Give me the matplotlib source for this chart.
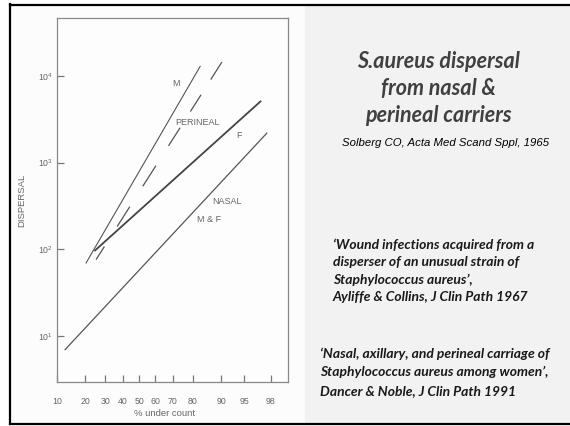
import numpy as np
import matplotlib
matplotlib.use("Agg")
import matplotlib.pyplot as plt
from matplotlib.patches import Rectangle
from matplotlib.lines import Line2D
from statistics import NormalDist

# ---- data (percent under count, dispersal) ----
m_pct = [20.4, 83.0]
m_disp = [69.5, 12900]
perineal_pct = [25.1, 90.2]
perineal_disp = [76, 14450]
f_pct = [24.6, 97.1]
f_disp = [97, 5080]
nasal_pct = [12.4, 97.7]
nasal_disp = [6.95, 2190]

x_ticks = [10, 20, 30, 40, 50, 60, 70, 80, 90, 95, 98]
y_ticks = [10, 100, 1000, 10000]
y_tick_labels = [r"$10^{1}$", r"$10^{2}$", r"$10^{3}$", r"$10^{4}$"]

plt.rcParams['lines.scale_dashes'] = False
plt.rcParams['mathtext.fontset'] = 'custom'
plt.rcParams['mathtext.rm'] = 'Liberation Sans'

W, H = 570, 426
fig = plt.figure(figsize=(W / 100, H / 100), dpi=100)
fig.patch.set_facecolor("white")

def fx(x):
    return x / W

def fy(y):
    return 1 - y / H

# slide background panels
fig.add_artist(Rectangle((fx(10), fy(424)), fx(295), (419) / H, transform=fig.transFigure,
                         facecolor="#fcfcfc", edgecolor="none", zorder=0))
fig.add_artist(Rectangle((fx(305), fy(424)), fx(265), (419) / H, transform=fig.transFigure,
                         facecolor="#f2f2f2", edgecolor="none", zorder=0))
# frame
for (x0, y0, x1, y1) in [(10, 4.5, 570, 4.5), (10, 423.5, 570, 423.5), (10.5, 4, 10.5, 424)]:
    fig.add_artist(Line2D([fx(x0), fx(x1)], [fy(y0), fy(y1)], transform=fig.transFigure,
                          color="black", lw=1.6, zorder=5))

# probit scale
nd = NormalDist()
def fwd(p):
    p = np.asarray(p, dtype=float)
    out = np.empty_like(p)
    flat = p.ravel()
    o = out.ravel()
    for i, v in enumerate(flat):
        v = min(max(v / 100.0, 1e-9), 1 - 1e-9)
        o[i] = nd.inv_cdf(v)
    return out

def inv(z):
    z = np.asarray(z, dtype=float)
    out = np.empty_like(z)
    flat = z.ravel()
    o = out.ravel()
    for i, v in enumerate(flat):
        o[i] = nd.cdf(v) * 100.0
    return out

ax = fig.add_axes([fx(57), fy(382), fx(288) - fx(57), fy(18) - fy(382)])
ax.set_facecolor("#fdfdfd")
ax.set_xscale("function", functions=(fwd, inv))
ax.set_yscale("log")
ax.set_xlim(10, 99.0)
ax.set_ylim(2.94, 46700)

lc = "#555555"
ax.plot(nasal_pct, nasal_disp, color=lc, lw=0.9)
ax.plot(f_pct, f_disp, color="#444444", lw=1.3)
ax.plot(m_pct, m_disp, color=lc, lw=0.8)
dash_pattern = (11.2, 17.0, 17.0, 17.4, 17.6, 16.9, 15.5, 13.8, 14.3, 13.0, 15.5, 40.0)
ax.plot(perineal_pct, perineal_disp, color=lc, lw=0.9, linestyle=(0, dash_pattern))

small = ["Liberation Sans Narrow", "Liberation Sans"]
ax.set_xticks(x_ticks)
ax.set_xticklabels([str(t) for t in x_ticks])
ax.set_yticks(y_ticks)
ax.set_yticklabels(y_tick_labels)
ax.minorticks_off()
ax.tick_params(axis="both", direction="in", colors="#777777", labelcolor="#666666",
               labelsize=6.3, width=0.9)
ax.tick_params(axis="x", length=5, pad=11)
ax.tick_params(axis="y", length=5, pad=3)
for lab in ax.get_xticklabels() + ax.get_yticklabels():
    lab.set_family(small)
for s in ax.spines.values():
    s.set_color("#888888")
    s.set_linewidth(0.9)

tfont = dict(family=small, color="#666666", fontsize=6.5)

def axpt(x, y):
    pos = ax.get_position()
    return ((fx(x) - pos.x0) / pos.width, (fy(y) - pos.y0) / pos.height)

for (x, y, s) in [(176, 84, "M"), (198, 122, "PERINEAL"), (239, 135, "F"),
                  (227, 202, "NASAL"), (209, 220, "M & F")]:
    ax.text(*axpt(x, y), s, transform=ax.transAxes, ha="center", va="center", **tfont)

ax.set_xlabel("% under count", family=small, color="#666666", fontsize=6.8)
ax.xaxis.set_label_coords(*axpt(165, 409))
ax.set_ylabel("DISPERSAL", family=small, color="#666666", fontsize=6.8, labelpad=8)

# right panel text
title_font = dict(family="Lato", weight="bold", style="italic", color="#404040", fontsize=15.5)
for y, s in [(62, "S.aureus dispersal"), (89, "from nasal &"), (115, "perineal carriers")]:
    fig.text(fx(438), fy(y), s, ha="center", va="center", **title_font)

fig.text(fx(446), fy(143), "Solberg CO, Acta Med Scand Sppl, 1965", ha="center", va="center",
         family="Liberation Sans", style="italic", color="black", fontsize=8.2)

qfont = dict(family="Lato", weight="bold", style="italic", color="#1a1a1a", fontsize=10)
for y, s in [(245, "\u2018Wound infections acquired from a"),
             (262, "disperser of an unusual strain of"),
             (280, "Staphylococcus aureus\u2019,"),
             (297, "Ayliffe & Collins, J Clin Path 1967")]:
    fig.text(fx(333), fy(y), s, ha="left", va="center", **qfont)

for y, s in [(354, "\u2018Nasal, axillary, and perineal carriage of"),
             (372, "Staphylococcus aureus among women\u2019,"),
             (391, "Dancer & Noble, J Clin Path 1991")]:
    fig.text(fx(320), fy(y), s, ha="left", va="center", **qfont)

fig.savefig("out.png", dpi=100, facecolor=fig.get_facecolor())
